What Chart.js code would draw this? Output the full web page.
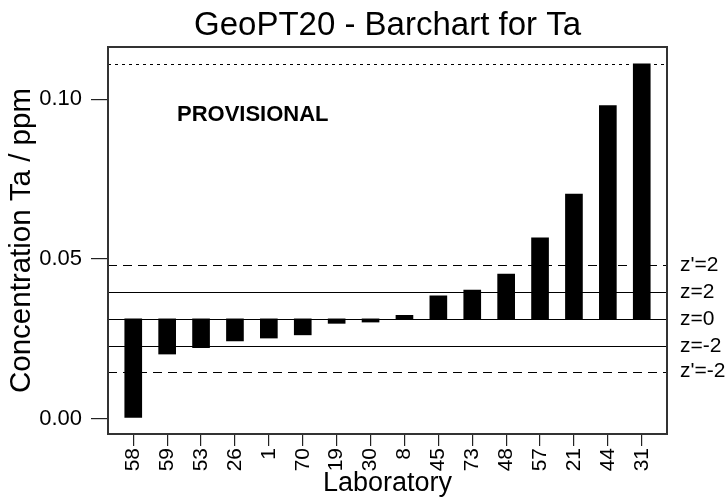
<!DOCTYPE html>
<html>
<head>
<meta charset="utf-8">
<script src="https://cdn.jsdelivr.net/npm/chart.js@4"></script>
<style>
  body { margin: 0; background: #fff; }
</style>
</head>
<body>
<canvas id="barChart" width="728" height="497"></canvas>
<script>
// 試験所ごとの値 (ppm)
const labs = ['58','59','53','26','1','70','19','30','8','45','73','48','57','21','44','31'];
const values = [0.0005, 0.0203, 0.0223, 0.0244, 0.0253, 0.0263, 0.0299, 0.0303, 0.0324, 0.0385, 0.0403, 0.0453, 0.0566, 0.0703, 0.098, 0.111];

// 基準線 (z=0 が棒の基点)
const assigned = 0.0313;
const refValues = [0.111, 0.0481, 0.0396, 0.0313, 0.0229, 0.0148];
const refLabels = ['', "z'=2", 'z=2', 'z=0', 'z=-2', "z'=-2"];
const refDashes = [[3, 4], [9, 6], [], [], [], [9, 6]];

const yTicks = [0, 0.05, 0.10];

Chart.defaults.font.family = "'Liberation Sans', Arial, sans-serif";
Chart.defaults.color = '#000';

// 枠・基準線・ラベルの描画
const refLinePlugin = {
    id: 'refLines',
    afterDatasetsDraw(chart) {
        const {ctx, chartArea: a, scales: {x, y}} = chart;
        ctx.save();
        ctx.strokeStyle = '#000';
        ctx.lineWidth = 1.2;
        refValues.forEach((v, i) => {
            const py = Math.round(y.getPixelForValue(v)) + 0.5;
            ctx.setLineDash(refDashes[i]);
            ctx.beginPath();
            ctx.moveTo(a.left, py);
            ctx.lineTo(a.right, py);
            ctx.stroke();
        });
        ctx.setLineDash([]);

        // 右側のラベル
        ctx.fillStyle = '#000';
        ctx.font = "21px 'Liberation Sans', Arial, sans-serif";
        ctx.textAlign = 'left';
        ctx.textBaseline = 'middle';
        refValues.forEach((v, i) => {
            if (refLabels[i]) ctx.fillText(refLabels[i], a.right + 13, y.getPixelForValue(v));
        });

        // PROVISIONAL
        ctx.font = "bold 22px 'Liberation Sans', Arial, sans-serif";
        ctx.fillText('PROVISIONAL', x.getPixelForValue(1.29), y.getPixelForValue(0.095));

        // プロット枠
        ctx.strokeStyle = '#333';
        ctx.lineWidth = 2;
        ctx.strokeRect(a.left, a.top, a.right - a.left, a.bottom - a.top);
        ctx.restore();
    }
};

new Chart(document.getElementById('barChart'), {
    type: 'bar',
    data: {
        datasets: [{
            data: values.map((v, i) => ({ x: i, y: [assigned, v] })),
            backgroundColor: '#000',
            borderWidth: 0,
            barThickness: 17
        }]
    },
    options: {
        responsive: false,
        animation: false,
        events: [],
        layout: { padding: { left: 0, right: 61, top: 0, bottom: 0 } },
        plugins: {
            legend: { display: false },
            tooltip: { enabled: false },
            title: {
                display: true,
                fullSize: false,
                text: 'GeoPT20 - Barchart for Ta',
                font: { size: 33, weight: 'normal', lineHeight: 1.2 },
                padding: { top: 6, bottom: 1.4 },
                color: '#000'
            }
        },
        scales: {
            x: {
                type: 'linear',
                min: -0.745,
                max: 15.745,
                offset: false,
                afterBuildTicks: s => { s.ticks = labs.map((_, i) => ({ value: i })); },
                afterFit: s => { s.height = 63; },
                ticks: {
                    autoSkip: false,
                    minRotation: 90,
                    maxRotation: 90,
                    padding: 2,
                    font: { size: 21 },
                    callback: v => labs[v]
                },
                grid: { offset: false, drawOnChartArea: false, drawTicks: true, tickLength: 12, color: '#222', lineWidth: 1.2 },
                border: { display: false },
                title: {
                    display: true,
                    text: 'Laboratory',
                    font: { size: 27, lineHeight: 1 },
                    padding: { top: 0, bottom: 0 }
                }
            },
            y: {
                min: -0.0047,
                max: 0.1163,
                afterBuildTicks: s => { s.ticks = yTicks.map(v => ({ value: v })); },
                afterFit: s => { s.width = 108; },
                ticks: {
                    padding: 9,
                    font: { size: 22 },
                    callback: v => v.toFixed(2)
                },
                grid: { drawOnChartArea: false, drawTicks: true, tickLength: 17, color: '#222', lineWidth: 1.2 },
                border: { display: false },
                title: {
                    display: true,
                    text: 'Concentration Ta / ppm',
                    font: { size: 29.5, lineHeight: 1 },
                    padding: { top: 7, bottom: 0 }
                }
            }
        }
    },
    plugins: [refLinePlugin]
});
</script>
</body>
</html>
